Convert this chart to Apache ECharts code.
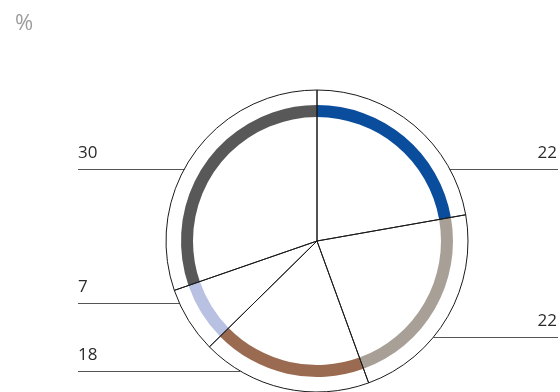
<!DOCTYPE html>
<html>
<head>
<meta charset="utf-8">
<style>
  html, body { margin: 0; padding: 0; background: #fff; }
  #chart { width: 560px; height: 392px; }
</style>
<script src="https://cdn.jsdelivr.net/npm/echarts@6/dist/echarts.min.js"></script>
</head>
<body>
<div id="chart"></div>
<script>
// Shares, clockwise from 12 o'clock
const categories = ['A', 'B', 'C', 'D', 'E'];
const shares = [22, 22, 18, 7, 30];
const ringColors = ['#0b4d9d', '#a8a097', '#9b6b51', '#b8c1e2', '#585858'];
const unitLabel = '%';

// Pie geometry (pixels)
const CX = 317, CY = 241, R = 151;
const RING_IN = 124, RING_OUT = 136;

// Where each leader line runs: side of the chart and its height
const labelSide = ['right', 'right', 'left', 'left', 'left'];
const labelLineY = [169, 337, 371, 303, 169];
const LEFT_X = 78, RIGHT_X = 558;

const chart = echarts.init(document.getElementById('chart'), null, { renderer: 'canvas' });

const sliceData = categories.map((c, i) => ({ name: c, value: shares[i] }));

chart.setOption({
  animation: false,
  title: {
    text: unitLabel,
    left: 10, top: 8,
    textStyle: { fontFamily: 'Open Sans', fontWeight: 'normal', fontSize: 22, color: '#9c9c9c' }
  },
  series: [
    {
      // coloured band inside the rim
      type: 'pie',
      silent: true,
      center: [CX, CY],
      radius: [RING_IN, RING_OUT],
      startAngle: 90,
      clockwise: true,
      label: { show: false },
      labelLine: { show: false },
      itemStyle: { borderWidth: 0 },
      emphasis: { disabled: true },
      data: categories.map((c, i) => ({ name: c, value: shares[i], itemStyle: { color: ringColors[i] } })),
      z: 1
    },
    {
      // outlined slices drawn over the band, carrying the value labels
      type: 'pie',
      silent: true,
      center: [CX, CY],
      radius: [0, R],
      startAngle: 90,
      clockwise: true,
      itemStyle: { color: 'rgba(0,0,0,0)', borderColor: '#1a1a1a', borderWidth: 1 },
      emphasis: { disabled: true },
      label: {
        show: true,
        position: 'outer',
        formatter: p => String(p.value),
        fontFamily: 'Open Sans',
        fontSize: 17,
        color: '#2b2b2b'
      },
      labelLine: { show: true, lineStyle: { color: '#555', width: 1.2, opacity: 1 } },
      labelLayout: function (params) {
        const i = params.dataIndex;
        const y = labelLineY[i];
        const ly = y + 0.5;
        const dx = Math.sqrt(Math.max(0, R * R - (y - CY) * (y - CY)));
        if (labelSide[i] === 'right') {
          const ex = CX + dx;
          return {
            x: RIGHT_X - 1, y: y - 16, align: 'right', verticalAlign: 'middle',
            labelLinePoints: [[ex, ly], [ex, ly], [RIGHT_X, ly]]
          };
        }
        const ex = CX - dx;
        return {
          x: LEFT_X, y: y - 16, align: 'left', verticalAlign: 'middle',
          labelLinePoints: [[ex, ly], [ex, ly], [LEFT_X, ly]]
        };
      },
      data: sliceData,
      z: 2
    }
  ]
});
</script>
</body>
</html>
